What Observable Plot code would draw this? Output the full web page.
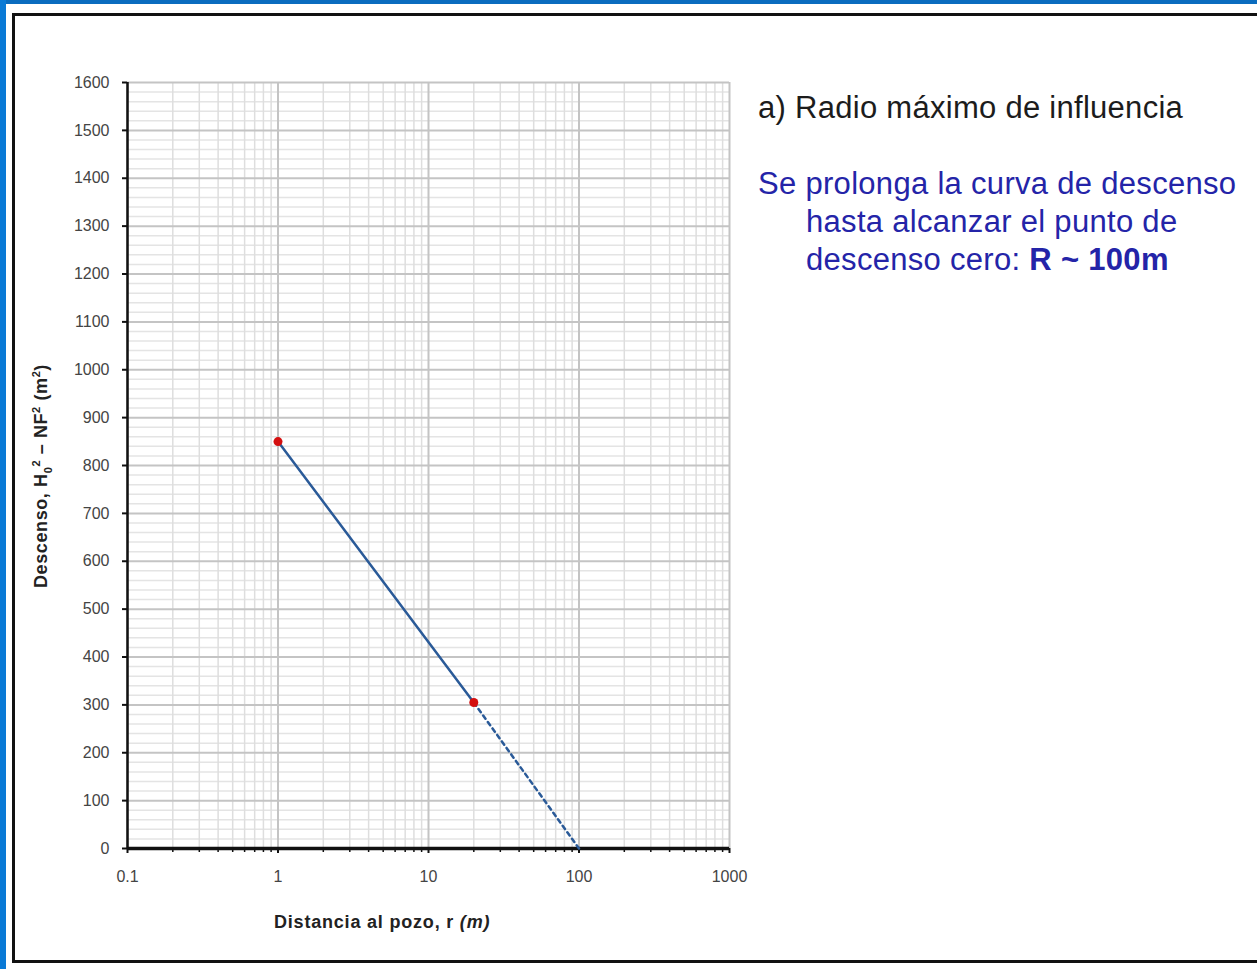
<!DOCTYPE html>
<html>
<head>
<meta charset="utf-8">
<script src="https://cdn.jsdelivr.net/npm/d3@7"></script>
<script src="https://cdn.jsdelivr.net/npm/@observablehq/plot@0.6"></script>
<style>
  html, body { margin: 0; padding: 0; background: #fff; }
  #page { position: relative; width: 1257px; height: 969px; overflow: hidden; background: #fff; font-family: "Liberation Sans", Arial, sans-serif; }
  #blueTop { position: absolute; left: 0; top: 0; width: 1257px; height: 4px; background: #0a6cbf; }
  #blueLeft { position: absolute; left: 0; top: 0; width: 6px; height: 969px; background: #0a7ad6; }
  #frame { position: absolute; left: 12px; top: 13px; width: 1260px; height: 944px; border: 3px solid #111; }
  #chart { position: absolute; left: 0; top: 0; }
  #xlabel { position: absolute; left: 274px; top: 912px; font-size: 18px; letter-spacing: 0.8px; font-weight: bold; color: #222; white-space: nowrap; }
  #ylabel { position: absolute; left: 42px; top: 476px; transform: translate(-50%, -50%) rotate(-90deg); font-size: 18px; letter-spacing: 0.6px; font-weight: bold; color: #222; white-space: nowrap; }
  #title { position: absolute; left: 758px; top: 90px; font-size: 31px; letter-spacing: 0.28px; color: #1c1c1c; white-space: nowrap; }
  #note { position: absolute; left: 758px; top: 165px; font-size: 31px; letter-spacing: 0.3px; color: #2424a8; line-height: 38px; white-space: nowrap; }
  #note .ind { padding-left: 48px; }
</style>
</head>
<body>
<div id="page">
  <div id="blueTop"></div>
  <div id="blueLeft"></div>
  <div id="frame"></div>
  <div id="chart"></div>
  <div id="xlabel">Distancia al pozo, r <i>(m)</i></div>
  <div id="ylabel">Descenso, H<sub style="font-size:11px">0</sub><sup style="font-size:11px">2</sup> – NF<sup style="font-size:11px">2</sup> (m<sup style="font-size:11px">2</sup>)</div>
  <div id="title">a) Radio máximo de influencia</div>
  <div id="note">Se prolonga la curva de descenso<br><span class="ind">hasta alcanzar el punto de</span><br><span class="ind">descenso cero: <b>R ~ 100m</b></span></div>
</div>
<script>
// Measured points (distance r in m, drawdown)
const distancia = [1, 20];
const descenso = [850, 305];
// Extrapolation to zero drawdown
const extDistancia = [20, 100];
const extDescenso = [305, 0];
// Axis ticks
const xTicks = [0.1, 1, 10, 100, 1000];
const xTickLabels = ["0.1", "1", "10", "100", "1000"];
const yTicks = [0, 100, 200, 300, 400, 500, 600, 700, 800, 900, 1000, 1100, 1200, 1300, 1400, 1500, 1600];

const measured = distancia.map((r, i) => ({r, s: descenso[i]}));
const extension = extDistancia.map((r, i) => ({r, s: extDescenso[i]}));
const xMinor = [];
for (const d of [0.1, 1, 10, 100]) for (let k = 2; k <= 9; k++) xMinor.push(+(d * k).toPrecision(3));
const yMinor = d3.range(0, 1601, 20).filter(v => v % 100 !== 0);

const chart = Plot.plot({
  width: 760,
  height: 900,
  marginLeft: 127,
  marginRight: 31,
  marginTop: 82,
  marginBottom: 52,
  style: {fontFamily: "'Liberation Sans', Arial, sans-serif", fontSize: "16px", color: "#333", background: "transparent", overflow: "visible"},
  x: {type: "log", domain: [0.1, 1000]},
  y: {domain: [0, 1600]},
  marks: [
    Plot.ruleY(yMinor, {stroke: "#e4e4e4", strokeWidth: 1.5}),
    Plot.ruleX(xMinor, {stroke: "#dedede", strokeWidth: 1.5}),
    Plot.ruleY(yTicks, {stroke: "#c4c4c4", strokeWidth: 2}),
    Plot.ruleX(xTicks, {stroke: "#c4c4c4", strokeWidth: 2}),
    Plot.axisY({ticks: yTicks, tickSize: 5, tickPadding: 13, tickFormat: d => String(d), label: null, stroke: "#111", strokeWidth: 2, fill: "#444", fontSize: 16}),
    Plot.axisX({ticks: xMinor, tickSize: 4, tickFormat: () => "", label: null, stroke: "#111", strokeWidth: 1.5}),
    Plot.axisX({ticks: xTicks, tickSize: 5, tickPadding: 17, tickFormat: d => xTickLabels[xTicks.indexOf(d)], label: null, stroke: "#111", strokeWidth: 2, fill: "#444", fontSize: 16}),
    Plot.ruleX([0.1], {stroke: "#111", strokeWidth: 2.5}),
    Plot.ruleY([0], {stroke: "#111", strokeWidth: 3.5}),
    Plot.line(extension, {x: "r", y: "s", stroke: "#2a5a98", strokeWidth: 2.5, strokeDasharray: "4,4"}),
    Plot.line(measured, {x: "r", y: "s", stroke: "#2a5a98", strokeWidth: 2.5}),
    Plot.dot(measured, {x: "r", y: "s", r: 4.5, fill: "#d40f0f", stroke: "none"})
  ]
});
document.getElementById("chart").appendChild(chart);
</script>
</body>
</html>
